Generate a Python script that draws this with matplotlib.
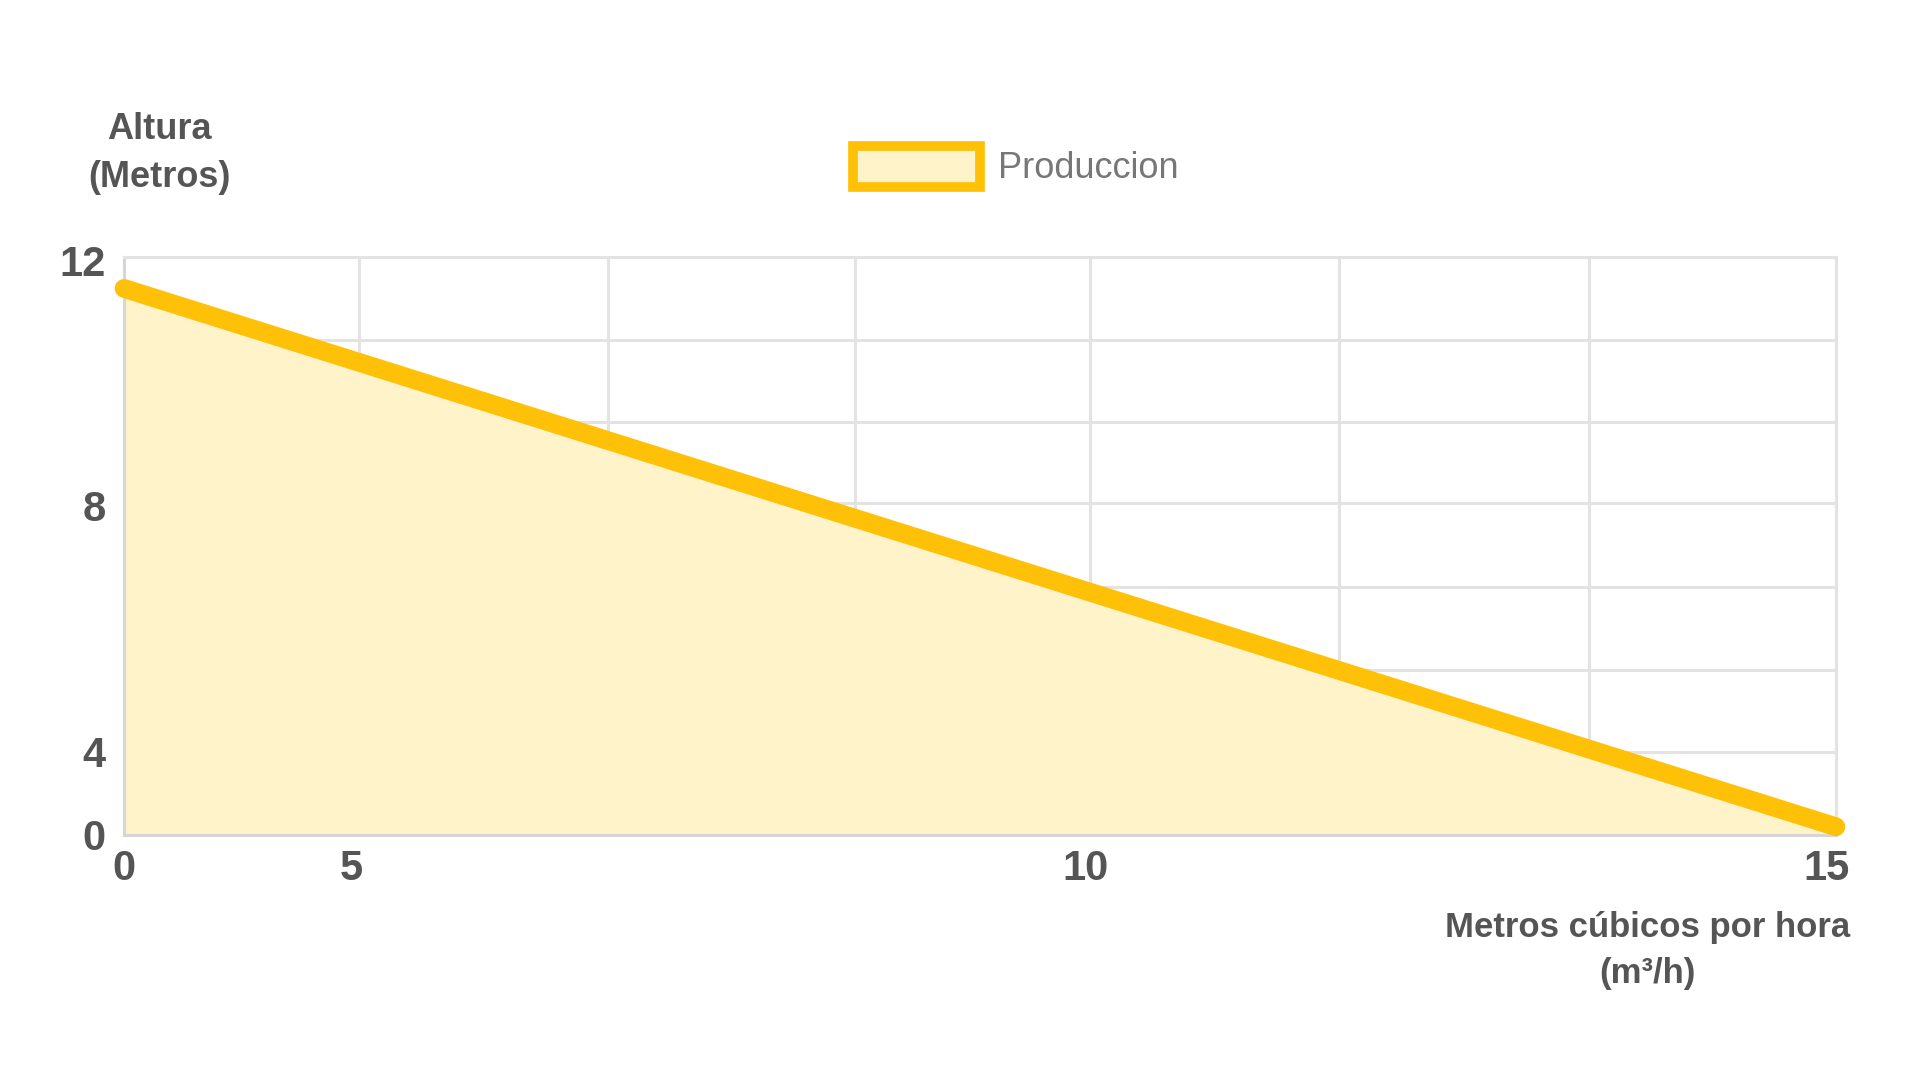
import matplotlib
matplotlib.use("Agg")
import matplotlib.pyplot as plt
from matplotlib.patches import Patch

plt.rcParams['font.family'] = ['Liberation Sans', 'DejaVu Sans']

# positions on the drawn grid (7 x 7 cells)
caudal = [0, 7]
altura = [6.62, 0.10]

x_tick_pos = [0, 0.93, 3.93, 6.96]
x_tick_lab = ["0", "5", "10", "15"]
y_tick_pos = [0, 1.01, 3.99, 6.96]
y_tick_lab = ["0", "4", "8", "12"]
x_grid = [0, 0.96, 1.98, 2.99, 3.95, 4.97, 5.99, 7]
y_grid = [0, 1, 2, 3, 4.02, 5, 6, 7]

amarillo = "#FFC107"
relleno = "#FEF3C9"
gris = "#555555"

fig = plt.figure(figsize=(19.2, 10.8), dpi=100)
ax = fig.add_axes([0.0646, 0.2269, 0.8916, 0.5351])

ax.fill_between(caudal, altura, 0, color=relleno, lw=0, zorder=2)
ax.plot(caudal, altura, color=amarillo, lw=13.5, solid_capstyle="round",
        zorder=3, clip_on=False)

ax.set_xlim(0, 7)
ax.set_ylim(0, 7)

# grid on every cell, labels on their own positions
ax.set_xticks(x_grid, minor=True)
ax.set_yticks(y_grid, minor=True)
ax.grid(which="minor", color="#e3e3e3", lw=2.2, zorder=1)
ax.tick_params(which="minor", length=0)

ax.set_xticks(x_tick_pos, x_tick_lab)
ax.set_yticks(y_tick_pos, y_tick_lab)
ax.tick_params(which="major", length=0, labelsize=30, labelcolor=gris)
ax.tick_params(axis="x", pad=10)
ax.tick_params(axis="y", pad=13)
for lb in ax.get_xticklabels() + ax.get_yticklabels():
    lb.set_fontweight("bold")

for s in ax.spines.values():
    s.set_color("#e3e3e3")
    s.set_linewidth(2.2)
ax.spines["left"].set_color("#d6d6d6")
ax.spines["bottom"].set_color("#d6d6d6")

fig.text(0.083, 0.858, "Altura\n(Metros)", ha="center", va="center",
         fontsize=26, fontweight="bold", color=gris, linespacing=1.5)
fig.text(0.858, 0.120, "Metros cúbicos por hora\n(m³/h)", ha="center",
         va="center", fontsize=25, fontweight="bold", color=gris,
         linespacing=1.5)

handle = Patch(facecolor=relleno, edgecolor=amarillo, linewidth=7)
fig.legend([handle], ["Produccion"], loc="center", ncol=1,
           bbox_to_anchor=(0.529, 0.846), frameon=False, fontsize=26,
           handlelength=3.5, handleheight=1.35, handletextpad=0.5,
           labelcolor="#777777")

fig.savefig("out.png", dpi=100, facecolor="white")
